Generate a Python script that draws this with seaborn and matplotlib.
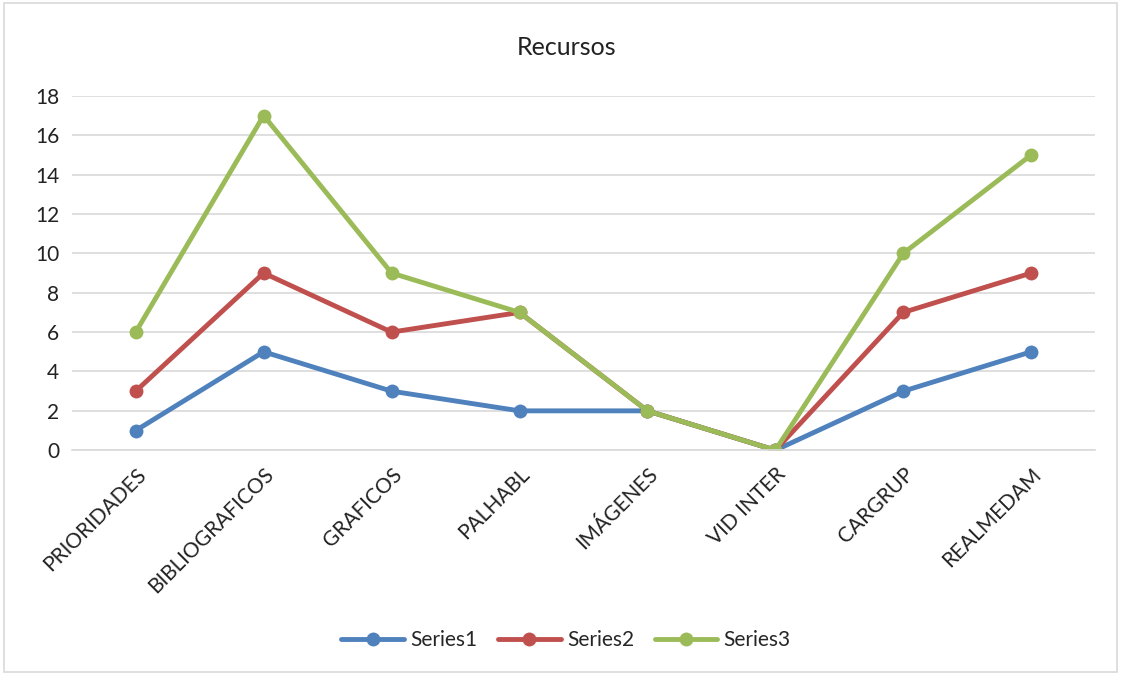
import matplotlib
matplotlib.use("Agg")
import matplotlib.pyplot as plt
import pandas as pd
import seaborn as sns

# chart data
categories = ["PRIORIDADES", "BIBLIOGRAFICOS", "GRAFICOS", "PALHABL",
              "IMÁGENES", "VID INTER", "CARGRUP", "REALMEDAM"]
series1 = [1, 5, 3, 2, 2, 0, 3, 5]
series2 = [3, 9, 6, 7, 2, 0, 7, 9]
series3 = [6, 17, 9, 7, 2, 0, 10, 15]
series_names = ["Series1", "Series2", "Series3"]

sns.set_style("white")
plt.rcParams["font.family"] = ["Lato", "DejaVu Sans"]

df = pd.DataFrame({"cat": categories, "Series1": series1,
                   "Series2": series2, "Series3": series3})
long_df = df.melt(id_vars="cat", var_name="series", value_name="value")
long_df["x"] = long_df["cat"].map({c: i for i, c in enumerate(categories)})

palette = {"Series1": "#4F81BD", "Series2": "#C0504D", "Series3": "#9BBB59"}

fig = plt.figure(figsize=(11.21, 6.75), dpi=100)
ax = fig.add_axes([0.064, 0.333, 0.913, 0.525])

sns.lineplot(data=long_df, x="x", y="value", hue="series", hue_order=series_names,
             palette=palette, marker="o", markersize=10, markeredgewidth=0,
             linewidth=3.5, ax=ax, legend=True, sort=False)

ax.set_xlim(-0.5, len(categories) - 0.5)
ax.set_ylim(0, 18)
ax.set_yticks(range(0, 19, 2))
ax.set_xticks(range(len(categories)))
ax.set_xticklabels(categories, rotation=45, ha="right", rotation_mode="anchor",
                   fontsize=15, color="#222222")
ax.tick_params(axis="y", labelsize=15, labelcolor="#222222", length=0, pad=9)
ax.tick_params(axis="x", length=0, pad=10)
ax.set_xlabel("")
ax.set_ylabel("")
ax.yaxis.grid(True, color="#D9D9D9", linewidth=1.2)
ax.set_axisbelow(True)
for s in ["top", "right", "left"]:
    ax.spines[s].set_visible(False)
ax.spines["bottom"].set_color("#D9D9D9")
ax.spines["bottom"].set_linewidth(1.2)

fig.text(0.505, 0.93, "Recursos", ha="center", va="center", fontsize=18, color="#222222")

handles, labels = ax.get_legend_handles_labels()
ax.get_legend().remove()
fig.legend(handles, labels, loc="center", bbox_to_anchor=(0.505, 0.052), ncol=3,
           frameon=False, fontsize=15, handlelength=3.0, columnspacing=1.0,
           handletextpad=0.3)

# chart border
fig.patches.append(plt.Rectangle((0.004, 0.004), 0.992, 0.992, transform=fig.transFigure,
                                 fill=False, edgecolor="#D9D9D9", linewidth=1.2))

fig.savefig("out.png", dpi=100)
